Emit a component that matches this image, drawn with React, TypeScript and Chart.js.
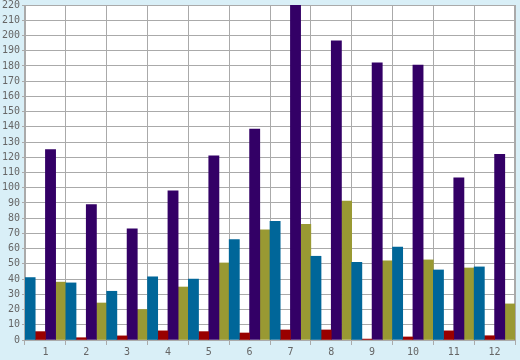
import React, { useEffect, useRef } from "react";
import { Chart, registerables } from "chart.js";

Chart.register(...registerables);

const categories = ["1", "2", "3", "4", "5", "6", "7", "8", "9", "10", "11", "12"];
const seriesBlue = [41, 37.5, 32, 41.5, 40, 66, 78, 55, 51, 61, 46, 48];
const seriesRed = [5.5, 1.5, 2.7, 6, 5.5, 4.6, 6.6, 6.6, 0.6, 2, 6, 2.8];
const seriesPurple = [125, 89, 73, 98, 121, 138.5, 220, 196.5, 182, 180.5, 106.5, 122];
const seriesOlive = [38, 24.3, 20, 34.8, 50.6, 72.3, 76, 91.3, 52, 52.6, 47.3, 23.7];
const yMin = 0;
const yMax = 220;
const yStep = 10;

const bgPlugin = {
  id: "bgPlugin",
  beforeDraw(chart: any) {
    const { ctx, chartArea, width, height } = chart;
    ctx.save();
    ctx.fillStyle = "#d9eff7";
    ctx.fillRect(0, 0, width, height);
    ctx.fillStyle = "#ffffff";
    ctx.fillRect(chartArea.left, chartArea.top, chartArea.right - chartArea.left, chartArea.bottom - chartArea.top);
    ctx.restore();
  },
  beforeDatasetsDraw(chart: any) {
    const { ctx, chartArea } = chart;
    ctx.save();
    ctx.strokeStyle = "#aaaaaa";
    ctx.lineWidth = 1;
    ctx.strokeRect(chartArea.left + 0.5, chartArea.top + 0.5, chartArea.right - chartArea.left - 1, chartArea.bottom - chartArea.top);
    ctx.restore();
  },
};

export default function App() {
  const ref = useRef<HTMLCanvasElement | null>(null);
  useEffect(() => {
    document.body.style.margin = "0";
    if (!ref.current) return;
    const font = { family: "DejaVu Sans Mono", size: 10 };
    const chart = new Chart(ref.current, {
      type: "bar",
      data: {
        labels: categories,
        datasets: [
          { data: seriesBlue, backgroundColor: "#006699" },
          { data: seriesRed, backgroundColor: "#990000" },
          { data: seriesPurple, backgroundColor: "#330066" },
          { data: seriesOlive, backgroundColor: "#999933" },
        ],
      },
      options: {
        responsive: false,
        animation: false,
        layout: { padding: { top: 5, right: 5, left: 0, bottom: 0 } },
        datasets: { bar: { barPercentage: 1, categoryPercentage: 1 } },
        plugins: { legend: { display: false }, tooltip: { enabled: false } },
        scales: {
          x: {
            offset: true,
            grid: { offset: true, color: "#aaaaaa", lineWidth: 1, tickLength: 5 },
            border: { display: false },
            ticks: { font, color: "#666666", padding: 1, maxRotation: 0 },
            afterFit(scale: any) {
              scale.height = 20;
              scale.paddingLeft = 0;
              scale.paddingRight = 0;
            },
          },
          y: {
            min: yMin,
            max: yMax,
            grid: { color: "#aaaaaa", lineWidth: 1, tickLength: 3 },
            border: { display: false },
            ticks: { stepSize: yStep, font, color: "#666666", padding: 2 },
            afterFit(scale: any) {
              scale.width = 25;
              scale.paddingTop = 0;
              scale.paddingBottom = 0;
            },
          },
        },
      },
      plugins: [bgPlugin],
    });
    return () => chart.destroy();
  }, []);
  return (
    <div style={{ width: 520, height: 360 }}>
      <canvas ref={ref} width={520} height={360} />
    </div>
  );
}
